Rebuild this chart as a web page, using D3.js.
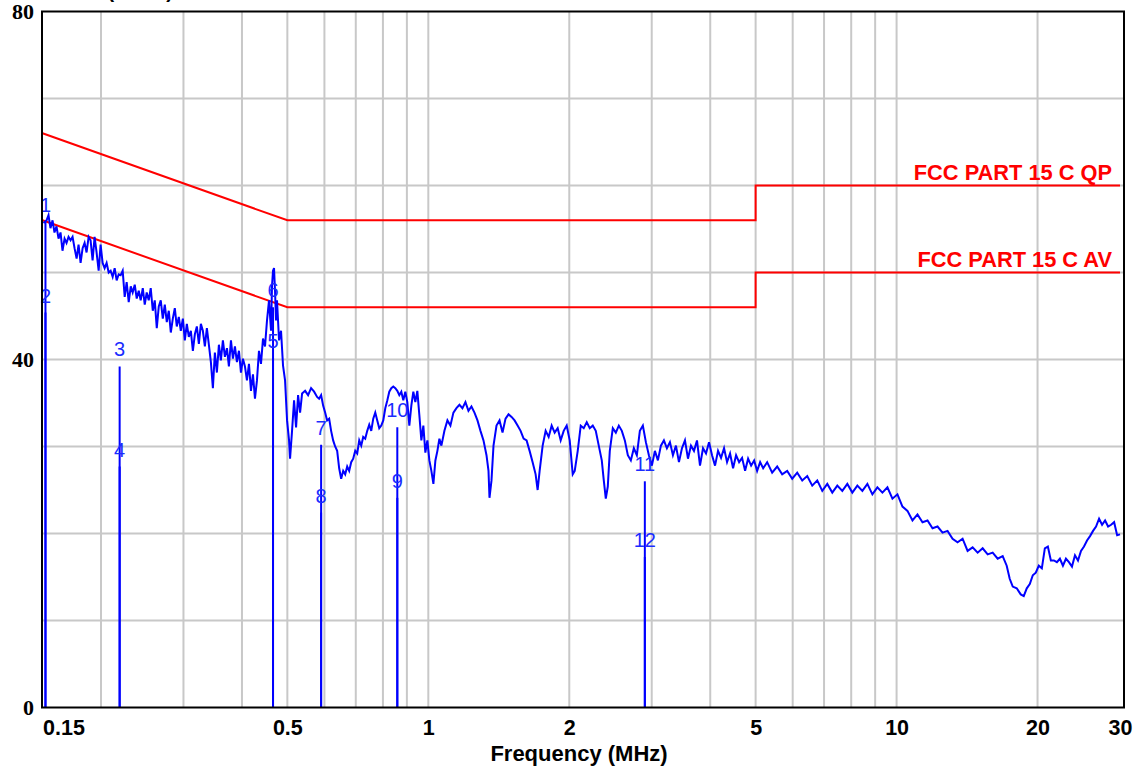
<!DOCTYPE html>
<html>
<head>
<meta charset="utf-8">
<script src="https://cdn.jsdelivr.net/npm/d3@7"></script>
<style>
  html, body { margin: 0; padding: 0; background: #ffffff; }
  svg { display: block; }
</style>
</head>
<body>
<svg id="chart" width="1146" height="769"></svg>
<script>
// Conducted emission scan, level in dBuV versus frequency in MHz
const traceFreq = [
  0.1507,0.1530,0.1545,0.1560,0.1576,0.1591,0.1607,0.1623,0.1639,0.1655,
  0.1672,0.1688,0.1705,0.1722,0.1739,0.1756,0.1774,0.1791,0.1809,0.1827,
  0.1845,0.1863,0.1882,0.1900,0.1919,0.1938,0.1957,0.1977,0.1996,0.2016,
  0.2036,0.2056,0.2077,0.2097,0.2118,0.2139,0.2160,0.2182,0.2203,0.2225,
  0.2247,0.2269,0.2292,0.2315,0.2337,0.2361,0.2384,0.2408,0.2431,0.2456,
  0.2480,0.2504,0.2529,0.2554,0.2580,0.2605,0.2631,0.2657,0.2683,0.2710,
  0.2737,0.2764,0.2791,0.2819,0.2847,0.2875,0.2903,0.2932,0.2961,0.2991,
  0.3020,0.3050,0.3080,0.3111,0.3142,0.3173,0.3204,0.3236,0.3268,0.3300,
  0.3333,0.3366,0.3399,0.3433,0.3467,0.3501,0.3536,0.3571,0.3606,0.3642,
  0.3678,0.3715,0.3751,0.3789,0.3826,0.3864,0.3902,0.3941,0.3980,0.4019,
  0.4059,0.4099,0.4140,0.4181,0.4222,0.4264,0.4306,0.4349,0.4392,0.4436,
  0.4480,0.4524,0.4569,0.4614,0.4637,0.4660,0.4683,0.4706,0.4729,0.4752,
  0.4800,0.4847,0.4895,0.4944,0.4993,0.5042,0.5067,0.5117,0.5168,0.5219,
  0.5271,0.5323,0.5376,0.5456,0.5537,0.5619,0.5703,0.5788,0.5845,0.5903,
  0.5962,0.6021,0.6080,0.6141,0.6201,0.6263,0.6325,0.6388,0.6451,0.6515,
  0.6580,0.6645,0.6711,0.6777,0.6844,0.6912,0.6981,0.7050,0.7120,0.7190,
  0.7261,0.7333,0.7406,0.7479,0.7553,0.7628,0.7704,0.7780,0.7857,0.7935,
  0.8013,0.8093,0.8173,0.8254,0.8336,0.8418,0.8502,0.8586,0.8671,0.8757,
  0.8843,0.8931,0.9019,0.9109,0.9199,0.9290,0.9382,0.9475,0.9569,0.9664,
  0.9759,0.9856,0.9954,1.0052,1.0152,1.0253,1.0354,1.0457,1.0560,1.0665,
  1.0824,1.0985,1.1148,1.1314,1.1483,1.1654,1.1827,1.2003,1.2182,1.2363,
  1.2548,1.2735,1.2924,1.3117,1.3312,1.3444,1.3510,1.3644,1.3779,1.3984,
  1.4193,1.4404,1.4619,1.4836,1.5059,1.5284,1.5511,1.5742,1.5977,1.6214,
  1.6456,1.6702,1.6950,1.7118,1.7288,1.7546,1.7807,1.8072,1.8341,1.8614,
  1.8892,1.9173,1.9459,1.9749,2.0043,2.0341,2.0543,2.0849,2.1159,2.1474,
  2.1794,2.2118,2.2448,2.2782,2.3121,2.3466,2.3699,2.3934,2.4171,2.4410,
  2.4774,2.5143,2.5517,2.5898,2.6284,2.6674,2.7071,2.7475,2.7884,2.8299,
  2.8720,2.9148,2.9583,3.0023,3.0470,3.0924,3.1385,3.1852,3.2326,3.2808,
  3.3296,3.3793,3.4296,3.4807,3.5326,3.5852,3.6386,3.6928,3.7478,3.8036,
  3.8603,3.9178,3.9762,4.0354,4.0955,4.1565,4.2184,4.2812,4.3450,4.4097,
  4.4754,4.5421,4.6097,4.6783,4.7480,4.8187,4.8905,4.9634,5.0374,5.1124,
  5.1886,5.2919,5.4239,5.5592,5.6979,5.8401,5.9857,6.1351,6.2881,6.4450,
  6.6057,6.7705,6.9394,7.1125,7.2900,7.4718,7.6582,7.8492,8.0451,8.2458,
  8.4515,8.6623,8.8785,9.1000,9.3270,9.5596,9.7982,10.043,10.293,10.550,
  10.813,11.083,11.359,11.643,11.933,12.231,12.536,12.849,13.169,13.498,
  13.835,14.180,14.534,14.897,15.269,15.650,16.040,16.440,16.850,17.186,
  17.442,17.703,18.055,18.414,18.689,18.968,19.251,19.539,19.830,20.126,
  20.427,20.731,21.041,21.355,21.674,21.997,22.326,22.659,22.997,23.340,
  23.688,24.042,24.401,24.765,25.134,25.509,25.890,26.276,26.668,27.066,
  27.470,27.880,28.296,28.718,29.146,29.581,30.0
];
const traceLevel = [
  55.7,56.0,56.6,55.1,56.0,54.6,55.3,53.9,54.6,52.5,
  53.9,53.4,54.1,53.7,54.1,52.8,51.6,53.2,51.1,52.8,
  53.4,52.3,54.1,53.7,51.4,54.1,52.3,50.2,53.2,51.1,
  50.5,51.1,50.0,50.2,49.5,50.5,49.1,49.8,49.7,50.2,
  47.2,48.9,46.6,48.4,47.7,48.6,47.0,47.9,46.8,48.2,
  46.3,47.7,46.8,48.2,45.6,46.8,43.6,46.1,46.8,44.7,
  46.3,44.3,45.6,43.1,44.7,45.9,43.8,44.9,43.3,44.7,
  42.2,44.1,42.6,43.3,41.0,42.9,43.8,41.8,44.1,43.3,
  41.5,43.6,41.7,39.7,36.7,40.8,38.5,41.7,39.9,42.2,
  40.3,41.3,39.2,42.2,40.1,41.5,39.7,41.0,38.5,40.1,
  39.2,37.6,39.5,36.4,38.3,35.5,37.6,41.0,39.5,42.4,
  41.5,44.5,46.8,43.3,48.5,50.2,50.5,47.9,44.5,46.8,
  42.2,43.3,39.3,37.6,33.0,30.7,28.6,31.8,35.3,32.2,
  35.9,33.9,36.1,36.4,35.9,36.7,36.3,35.7,35.5,35.9,
  34.7,33.9,33.0,33.2,31.8,30.7,30.0,29.5,27.5,26.3,
  27.2,26.8,27.7,27.2,28.2,28.6,29.5,29.2,30.7,30.1,
  31.1,30.9,31.8,32.5,31.8,33.2,33.9,33.0,32.1,32.4,
  33.0,34.4,35.3,36.3,36.7,36.9,36.7,36.4,35.9,36.3,
  35.3,36.3,35.1,32.4,34.7,36.3,35.1,36.4,33.6,30.7,
  32.4,29.3,30.7,28.4,27.2,25.7,28.4,29.5,30.9,30.1,
  31.8,33.0,32.4,33.9,34.4,34.8,34.4,35.1,34.1,34.6,
  33.9,33.0,31.8,30.7,29.0,27.2,24.1,26.1,30.1,32.4,
  33.0,31.6,33.2,33.7,33.4,33.0,32.4,31.8,30.9,30.7,
  29.5,28.2,26.8,25.0,27.2,30.1,31.8,31.1,32.4,31.6,
  32.1,30.7,31.8,32.4,30.7,26.8,27.2,29.5,32.4,32.1,
  32.8,32.1,32.4,31.8,30.1,28.4,26.1,24.0,25.4,29.5,
  32.1,31.6,32.4,31.8,30.7,29.0,28.4,29.8,29.0,31.8,
  32.4,30.5,29.0,27.8,29.5,28.4,30.1,30.7,29.8,30.5,
  29.0,30.1,28.2,29.8,30.7,28.6,30.1,29.5,30.7,27.8,
  29.8,29.2,30.5,29.0,27.8,29.5,28.7,29.8,28.2,29.2,
  27.5,29.0,28.2,28.7,27.2,28.6,27.8,28.4,27.2,28.2,
  27.5,28.2,27.0,27.7,26.8,27.2,26.3,27.0,26.1,26.6,
  25.5,26.1,24.9,25.7,24.7,25.5,24.9,25.7,24.7,25.5,
  24.9,25.7,24.5,25.3,24.7,25.3,24.0,24.5,23.1,22.6,
  21.5,22.2,21.3,21.5,20.6,20.8,20.1,20.3,19.4,19.0,
  19.4,18.0,18.4,17.8,18.3,17.6,17.8,17.1,17.4,16.3,
  14.8,13.9,13.7,13.0,12.8,13.7,14.2,15.2,15.5,16.3,
  16.0,18.3,18.5,16.9,16.9,16.7,17.1,16.3,17.1,16.7,
  16.2,17.5,16.9,18.0,18.5,19.2,19.7,20.3,20.8,21.7,
  21.0,21.5,20.8,21.0,21.3,19.8,19.9
];

// FCC Part 15 Subpart C limit lines
const qpFreq  = [0.15, 0.5, 5, 5, 30];
const qpLevel = [66, 56, 56, 60, 60];
const avFreq  = [0.15, 0.5, 5, 5, 30];
const avLevel = [56, 46, 46, 50, 50];
const limitNames = ["FCC PART 15 C QP", "FCC PART 15 C AV"];

// Final measurement markers
const markerIds   = ["1","2","3","4","5","6","7","8","9","10","11","12"];
const markerFreq  = [0.1522,0.1522,0.2192,0.2192,0.466,0.466,0.5903,0.5903,0.8586,0.8586,2.90,2.90];
const markerLevel = [55.8,45.4,39.2,27.7,40.2,46.0,30.2,22.4,24.1,32.2,26.0,17.3];

// Axis ticks and grid
const xTickValues = [0.15, 0.5, 1, 2, 5, 10, 20, 30];
const xGridValues = [0.2,0.3,0.4,0.5,0.6,0.7,0.8,0.9,1,2,3,4,5,6,7,8,9,10,20];
const yTickValues = [0, 40, 80];
const yGridValues = [10, 20, 30, 40, 50, 60, 70];
const xTitle = "Frequency (MHz)";
const yTitle = "Level (dBuV)";

const svg = d3.select("#chart");
const frame = { left: 42, top: 11.5, right: 1124, bottom: 707.5 };

const x = d3.scaleLog().domain([0.15, 30]).range([42.5, 1120]);
const y = d3.scaleLinear().domain([0, 80]).range([frame.bottom, frame.top]);

svg.append("rect").attr("width", 1146).attr("height", 769).attr("fill", "#ffffff");

// grid
const grid = svg.append("g").attr("stroke", "#c8c8c8").attr("stroke-width", 2);
grid.selectAll("line.v").data(xGridValues).join("line")
  .attr("class", "v")
  .attr("x1", d => x(d)).attr("x2", d => x(d))
  .attr("y1", frame.top).attr("y2", frame.bottom);
grid.selectAll("line.h").data(yGridValues).join("line")
  .attr("class", "h")
  .attr("x1", frame.left).attr("x2", frame.right)
  .attr("y1", d => y(d)).attr("y2", d => y(d));

// limit lines
const limitLine = d3.line().x(d => x(d[0])).y(d => y(d[1]));
[[qpFreq, qpLevel], [avFreq, avLevel]].forEach(([fs, ls]) => {
  svg.append("path")
    .attr("d", limitLine(d3.zip(fs, ls)))
    .attr("fill", "none")
    .attr("stroke", "#ff0000")
    .attr("stroke-width", 2);
});
svg.selectAll("text.limit").data([qpLevel, avLevel]).join("text")
  .attr("class", "limit")
  .attr("x", 1112)
  .attr("y", d => y(d[d.length - 1]) - 6)
  .attr("text-anchor", "end")
  .attr("font-family", "'Liberation Sans', Arial, sans-serif")
  .attr("font-weight", "bold")
  .attr("font-size", 21.8)
  .attr("fill", "#ff0000")
  .text((d, i) => limitNames[i]);

// measurement trace
const traceLine = d3.line().x(d => x(d[0])).y(d => y(d[1]));
svg.append("path")
  .attr("d", traceLine(d3.zip(traceFreq, traceLevel)))
  .attr("fill", "none")
  .attr("stroke", "#0000ff")
  .attr("stroke-width", 2)
  .attr("stroke-linejoin", "miter");

// markers
const markers = d3.range(markerIds.length).map(i => ({ id: markerIds[i], f: markerFreq[i], v: markerLevel[i] }));
svg.append("g").selectAll("line").data(markers).join("line")
  .attr("x1", d => x(d.f)).attr("x2", d => x(d.f))
  .attr("y1", frame.bottom).attr("y2", d => y(d.v))
  .attr("stroke", "#0000ff").attr("stroke-width", 2);
svg.append("g").selectAll("text").data(markers).join("text")
  .attr("x", d => x(d.f))
  .attr("y", d => y(d.v) - 10)
  .attr("text-anchor", "middle")
  .attr("font-family", "'Liberation Sans', Arial, sans-serif")
  .attr("font-size", 20)
  .attr("fill", "#1a2cff")
  .text(d => d.id);

// frame
svg.append("rect")
  .attr("x", frame.left).attr("y", frame.top)
  .attr("width", frame.right - frame.left).attr("height", frame.bottom - frame.top)
  .attr("fill", "none").attr("stroke", "#000000").attr("stroke-width", 2);

// x axis labels
const xAxis = svg.append("g")
  .attr("transform", `translate(0,${frame.bottom})`)
  .call(d3.axisBottom(x).tickValues(xTickValues).tickFormat(d => String(d)).tickSize(0).tickPadding(12));
xAxis.select(".domain").remove();
xAxis.selectAll("text")
  .attr("font-family", "'Liberation Sans', Arial, sans-serif")
  .attr("font-weight", "bold")
  .attr("font-size", 21.5)
  .attr("fill", "#000000")
  .attr("text-anchor", d => d === 0.15 ? "start" : "middle");

// y axis labels
const yAxis = svg.append("g")
  .attr("transform", `translate(34,0)`)
  .call(d3.axisLeft(y).tickValues(yTickValues).tickSize(0).tickPadding(0));
yAxis.select(".domain").remove();
yAxis.selectAll("text")
  .attr("font-family", "'Liberation Serif', 'Times New Roman', serif")
  .attr("font-weight", "bold")
  .attr("font-size", 22)
  .attr("fill", "#000000");

// axis titles
svg.append("text")
  .attr("x", 579).attr("y", 761)
  .attr("text-anchor", "middle")
  .attr("font-family", "'Liberation Sans', Arial, sans-serif")
  .attr("font-weight", "bold")
  .attr("font-size", 22)
  .text(xTitle);
svg.append("text")
  .attr("x", 173).attr("y", -2)
  .attr("text-anchor", "end")
  .attr("font-family", "'Liberation Sans', Arial, sans-serif")
  .attr("font-weight", "bold")
  .attr("font-size", 20)
  .text(yTitle);
</script>
</body>
</html>
